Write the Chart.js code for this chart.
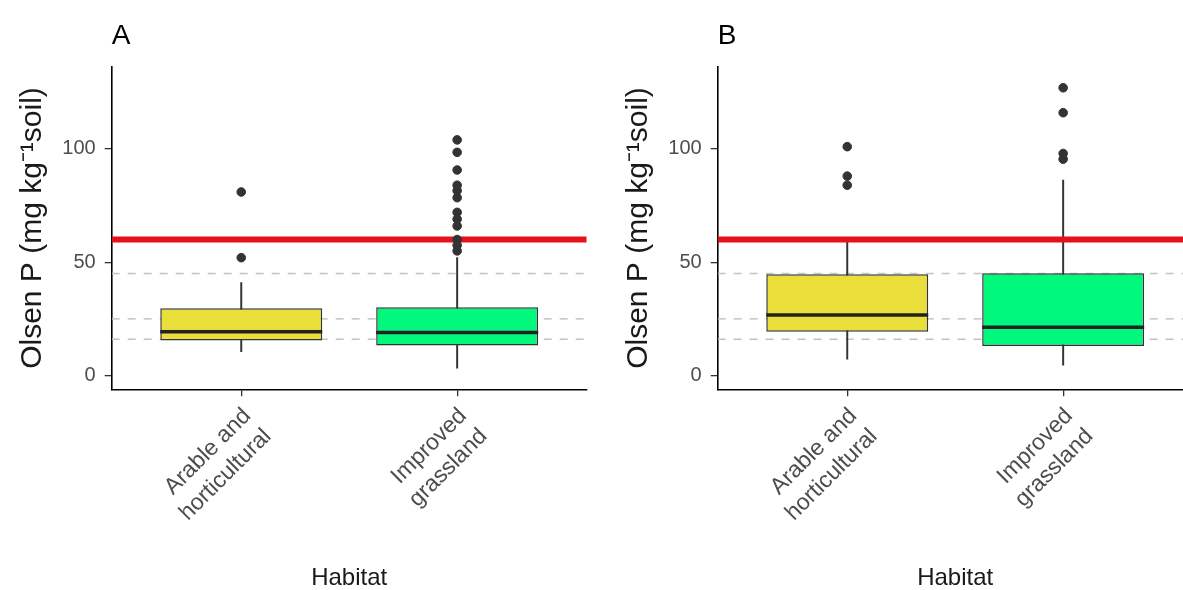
<!DOCTYPE html>
<html>
<head>
<meta charset="utf-8">
<script src="https://cdn.jsdelivr.net/npm/chart.js@4.4.1/dist/chart.umd.min.js"></script>
<style>
  html, body { margin: 0; padding: 0; background: #fff; overflow: hidden; width: 1183px; height: 590px; }
  .panel { position: absolute; top: 0; width: 600px; height: 590px; }
</style>
</head>
<body>
<div class="panel" style="left:0px"><canvas id="chartA" width="600" height="590"></canvas></div>
<div class="panel" style="left:606px"><canvas id="chartB" width="600" height="590"></canvas></div>
<script>
// categories and axis ticks
const habitats = [["Arable and", "horticultural"], ["Improved", "grassland"]];
const yTicks = [0, 50, 100];

// panel A box stats
const whiskerLowA = [10.5, 3.2];
const q1A = [15.4, 13.2];
const medianA = [19.3, 19.0];
const q3A = [29.7, 30.1];
const whiskerHighA = [41, 52];
const outliersA = [[52, 81], [55, 57.5, 60, 66, 69, 72, 78.5, 81.6, 84, 90.7, 98.5, 104]];

// panel B box stats
const whiskerLowB = [7.2, 4.6];
const q1B = [19.3, 13.0];
const medianB = [26.7, 21.3];
const q3B = [44.7, 45.1];
const whiskerHighB = [59.5, 86.3];
const outliersB = [[84, 88, 101], [95.5, 98, 116, 127]];

// reference lines
const threshold = 60;
const refLines = [16, 25, 45];

const fills = ["#EADF3A", "#00F97D"];
const xMin = 0.4, xMax = 2.6;
const yMin = -6.1, yMax = 136.3;
const FONT = "'Liberation Sans', Arial, sans-serif";

const letterPlugin = {
    id: "panelLetter",
    afterDraw(chart, args, opts) {
        const ctx = chart.ctx;
        ctx.save();
        ctx.font = "28px " + FONT;
        ctx.fillStyle = "#000";
        ctx.textBaseline = "alphabetic";
        ctx.textAlign = "left";
        ctx.fillText(opts.text, chart.chartArea.left, 44);
        ctx.restore();
    }
};

function makePanel(id, letter, lo, q1, med, q3, hi, outl) {
    const xs = habitats.map((h, i) => i + 1);
    const datasets = [];

    // dashed guide lines
    refLines.forEach((v) => {
        datasets.push({
            type: "line",
            data: [{ x: xMin, y: v }, { x: xMax, y: v }],
            borderColor: "#c4c4c4",
            borderWidth: 1.5,
            borderDash: [8, 8],
            pointRadius: 0,
            order: 6
        });
    });

    // whiskers
    datasets.push({
        type: "bar",
        data: xs.map((x, i) => ({ x: x, y: [lo[i], hi[i]] })),
        backgroundColor: "#333",
        barThickness: 1.3,
        grouped: false,
        order: 5
    });

    // boxes
    datasets.push({
        type: "bar",
        data: xs.map((x, i) => ({ x: x, y: [q1[i], q3[i]] })),
        backgroundColor: fills,
        borderColor: "#333",
        borderWidth: 1.5,
        borderSkipped: false,
        categoryPercentage: 1,
        barPercentage: 0.75,
        grouped: false,
        order: 4
    });

    // medians
    datasets.push({
        type: "scatter",
        data: xs.map((x, i) => ({ x: x, y: med[i] })),
        pointStyle: "line",
        pointRadius: 81,
        pointHoverRadius: 81,
        borderColor: "#222",
        borderWidth: 3.5,
        order: 3
    });

    // threshold line
    datasets.push({
        type: "line",
        data: [{ x: xMin, y: threshold }, { x: xMax, y: threshold }],
        borderColor: "#E5111B",
        borderWidth: 6,
        pointRadius: 0,
        order: 2
    });

    // outliers
    datasets.push({
        type: "scatter",
        data: outl.flatMap((arr, i) => arr.map((v) => ({ x: i + 1, y: v }))),
        backgroundColor: "#333",
        borderColor: "#333",
        pointRadius: 4.3,
        order: 1
    });

    return new Chart(document.getElementById(id), {
        type: "bar",
        data: { datasets: datasets },
        plugins: [letterPlugin],
        options: {
            responsive: false,
            animation: false,
            layout: { autoPadding: false, padding: { top: 66.7, right: 13.3, left: 0, bottom: 0 } },
            plugins: {
                legend: { display: false },
                tooltip: { enabled: false },
                panelLetter: { text: letter }
            },
            scales: {
                x: {
                    type: "linear",
                    min: xMin,
                    max: xMax,
                    offset: false,
                    afterBuildTicks: (s) => { s.ticks = xs.map((v) => ({ value: v })); },
                    afterFit: (s) => { s.height = 200.7; },
                    ticks: {
                        callback: (v) => habitats[v - 1],
                        minRotation: 45,
                        maxRotation: 45,
                        autoSkip: false,
                        padding: 6,
                        labelOffset: 6,
                        color: "#4d4d4d",
                        font: { family: FONT, size: 23, lineHeight: 1.25 }
                    },
                    grid: { offset: false, drawOnChartArea: false, tickLength: 7, color: "#333", lineWidth: 1.3 },
                    border: { color: "#000", width: 1.6 },
                    title: {
                        display: true,
                        text: "Habitat",
                        color: "#1a1a1a",
                        font: { family: FONT, size: 24 },
                        padding: { top: 0, bottom: -3 }
                    }
                },
                y: {
                    min: yMin,
                    max: yMax,
                    afterBuildTicks: (s) => { s.ticks = yTicks.map((v) => ({ value: v })); },
                    afterFit: (s) => { s.width = 111.7; },
                    ticks: {
                        padding: 9,
                        color: "#4d4d4d",
                        font: { family: FONT, size: 20 }
                    },
                    grid: { drawOnChartArea: false, tickLength: 7, color: "#333", lineWidth: 1.3 },
                    border: { color: "#000", width: 1.6 },
                    title: {
                        display: true,
                        text: "Olsen P (mg kg\u207B\u00B9soil)",
                        color: "#1a1a1a",
                        font: { family: FONT, size: 30 },
                        padding: { top: 15, bottom: 0 }
                    }
                }
            }
        }
    });
}

makePanel("chartA", "A", whiskerLowA, q1A, medianA, q3A, whiskerHighA, outliersA);
makePanel("chartB", "B", whiskerLowB, q1B, medianB, q3B, whiskerHighB, outliersB);
</script>
</body>
</html>
